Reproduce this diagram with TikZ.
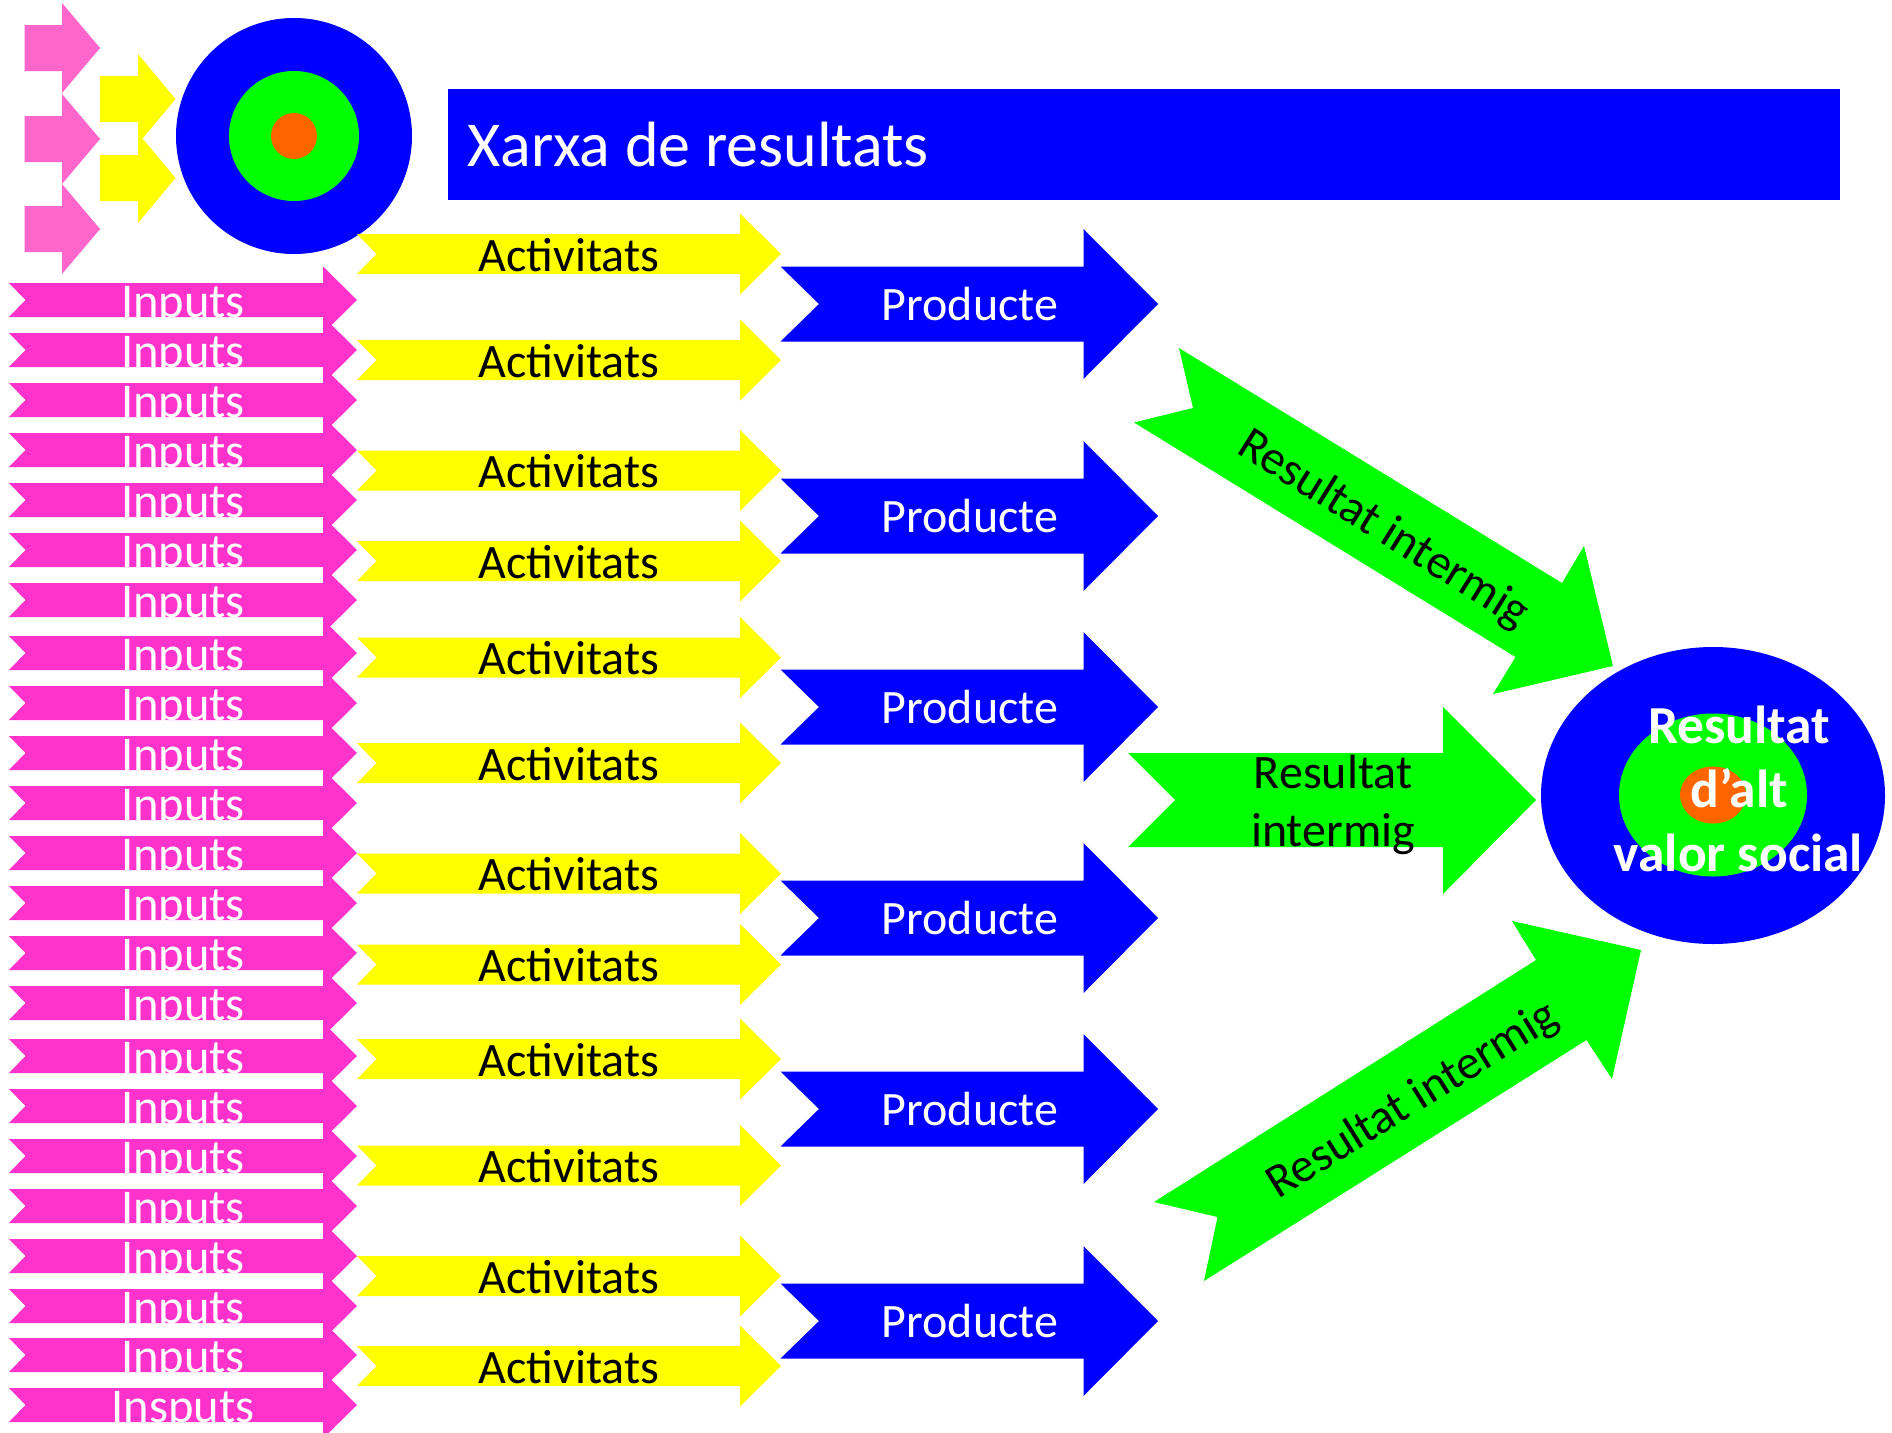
\documentclass[tikz,border=0pt]{standalone}
\usepackage{fontspec}
\setmainfont{Carlito}
\definecolor{inputpink}{HTML}{FF33CC}
\definecolor{lightpink}{HTML}{FF66CC}
\definecolor{netblue}{HTML}{0000FF}
\definecolor{netgreen}{HTML}{00FF00}
\definecolor{netyellow}{HTML}{FFFF00}
\definecolor{netorange}{HTML}{FF6600}
\tikzset{
    label48/.style={anchor=base, inner sep=0pt, font=\fontsize{48}{48}\selectfont},
    whitelabel/.style={label48, text=white},
    boldlabel/.style={anchor=base, inner sep=0pt, text=white, font=\fontsize{53.5}{53.5}\selectfont\bfseries},
}

\begin{document}
\begin{tikzpicture}[x=1pt, y=-1pt]
    \clip (0, 0) rectangle (1892, 1432);
    \fill[white] (0, 0) rectangle (1892, 1432);

    \foreach \y in {48, 139, 229} {
        \fill[lightpink] (24.5, \y-23) -- (62, \y-23) -- (62, \y-45) -- (100, \y) -- (62, \y+45) -- (62, \y+23) -- (24.5, \y+23) -- cycle;
    }
    \foreach \y in {99, 178} {
        \fill[netyellow] (100, \y-23) -- (138, \y-23) -- (138, \y-45) -- (175.5, \y) -- (138, \y+45) -- (138, \y+23) -- (100, \y+23) -- cycle;
    }
    \fill[netblue] (294, 136) circle (118);
    \fill[netgreen] (294, 136) circle (65);
    \fill[netorange] (294, 136) circle (23);

    \fill[netblue] (448, 89) rectangle (1840, 200);
    \node[anchor=base west, inner sep=0pt, text=white, font=\fontsize{64}{64}\selectfont] (title) at (467, 166.5) {Xarxa de resultats};

    \foreach \y/\lab in {300/Inputs, 350/Inputs, 400/Inputs, 450/Inputs, 500/Inputs, 550/Inputs, 600/Inputs, 653/Inputs, 703/Inputs, 753/Inputs, 803/Inputs, 853/Inputs, 903/Inputs, 953/Inputs, 1003/Inputs, 1056/Inputs, 1106/Inputs, 1156/Inputs, 1206/Inputs, 1256/Inputs, 1306/Inputs, 1355/Inputs, 1405/Insputs} {
        \fill[inputpink] (9, \y-17) -- (323, \y-17) -- (323, \y-33.5) -- (357, \y) -- (323, \y+33.5) -- (323, \y+17) -- (9, \y+17) -- (25.5, \y) -- cycle;
        \node[whitelabel, font=\fontsize{48.5}{48.5}\selectfont] (input\y) at (183, \y+17.5) {\lab};
    }

    \foreach \y in {254, 360, 470.5, 561, 657.5, 763, 873.5, 964.5, 1059, 1165.5, 1276, 1366} {
        \fill[netyellow] (357, \y-20) -- (740, \y-20) -- (740, \y-40.5) -- (781, \y) -- (740, \y+40.5) -- (740, \y+20) -- (357, \y+20) -- (376.5, \y) -- cycle;
        \node[label48] (act\y) at (569, \y+17) {Activitats};
    }

    \foreach \y in {304, 516, 707, 918, 1109, 1321} {
        \fill[netblue] (780.5, \y-37.5) -- (1083.5, \y-37.5) -- (1083.5, \y-75) -- (1158, \y) -- (1083.5, \y+75) -- (1083.5, \y+37.5) -- (780.5, \y+37.5) -- (819, \y) -- cycle;
        \node[whitelabel] (prod\y) at (970, \y+16.5) {Producte};
    }

    \fill[netgreen] (1179, 348) -- (1193, 408) -- (1134, 422.5) -- (1515.5, 657) -- (1493, 694) -- (1613, 666) -- (1584, 546) -- (1562, 583) -- cycle;
    \node[label48, anchor=center, rotate=-32] (resup) at (1383, 530) {Resultat intermig};

    \fill[netgreen] (1128, 753) -- (1443, 753) -- (1443, 707) -- (1536, 800) -- (1443, 894) -- (1443, 847) -- (1128, 847) -- (1175, 800) -- cycle;
    \node[label48] (resmid1) at (1333, 788.5) {Resultat};
    \node[label48] (resmid2) at (1333, 846.5) {intermig};

    \fill[netgreen] (1154, 1202) -- (1217.5, 1217) -- (1204, 1281) -- (1586.5, 1040) -- (1612, 1079) -- (1641, 950) -- (1512, 921) -- (1536, 960) -- cycle;
    \node[label48, anchor=center, rotate=32] (resdown) at (1413, 1101) {Resultat intermig};

    \fill[netblue] (1713, 795.5) ellipse (172 and 148.5);
    \fill[netgreen] (1713, 795) ellipse (94 and 81.5);
    \fill[netorange] (1713, 795) ellipse (33 and 28.5);
    \node[boldlabel] (top1) at (1739, 743) {Resultat};
    \node[boldlabel] (top2) at (1739, 807) {d’alt};
    \node[boldlabel] (top3) at (1738.5, 871) {valor social};
\end{tikzpicture}
\end{document}
